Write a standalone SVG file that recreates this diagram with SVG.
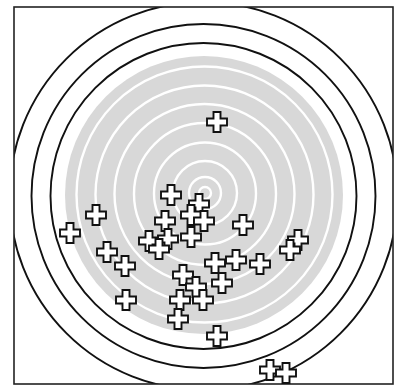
<svg xmlns="http://www.w3.org/2000/svg" xmlns:xlink="http://www.w3.org/1999/xlink" width="396" height="387" viewBox="0 0 396 387">
<style>
.ring{fill:none;stroke:#111;stroke-width:1.9}
.wr{fill:none;stroke:#fff;stroke-width:2.4}
.cross{fill:#fff;stroke:#111;stroke-width:1.9;stroke-linejoin:miter}
</style>
<defs>
<clipPath id="frame"><rect x="14" y="7" width="379" height="377"/></clipPath>
<path id="plus" d="M-3.5,-10 h7 v6.5 h6.5 v7 h-6.5 v6.5 h-7 v-6.5 h-6.5 v-7 h6.5 z"/>
</defs>
<rect width="396" height="387" fill="#fff"/>
<g id="target" clip-path="url(#frame)">
<circle cx="204" cy="195" r="139" fill="#d8d8d8"/>
<g class="wr">
<circle cx="204.5" cy="194.5" r="128"/>
<circle cx="204.5" cy="194.5" r="109"/>
<circle cx="204.5" cy="194" r="90"/>
<circle cx="205" cy="194" r="71"/>
<circle cx="205" cy="193.5" r="51"/>
<circle cx="205" cy="193" r="32"/>
<circle cx="205" cy="193" r="16"/>
<circle cx="205" cy="193" r="6"/>
</g>
<circle class="ring" cx="203.5" cy="196" r="194"/>
<circle class="ring" cx="203.5" cy="196" r="172"/>
<circle class="ring" cx="203.5" cy="196" r="153"/>
</g>
<rect id="border" x="14" y="7" width="379" height="377" fill="none" stroke="#222" stroke-width="1.6"/>
<g id="hits" class="cross">
<use xlink:href="#plus" x="217" y="122"/>
<use xlink:href="#plus" x="96" y="215"/>
<use xlink:href="#plus" x="70" y="233"/>
<use xlink:href="#plus" x="107" y="252"/>
<use xlink:href="#plus" x="125" y="266"/>
<use xlink:href="#plus" x="126" y="300"/>
<use xlink:href="#plus" x="171" y="195"/>
<use xlink:href="#plus" x="199" y="204"/>
<use xlink:href="#plus" x="191" y="215"/>
<use xlink:href="#plus" x="204" y="221"/>
<use xlink:href="#plus" x="165" y="221"/>
<use xlink:href="#plus" x="191" y="237"/>
<use xlink:href="#plus" x="149" y="241"/>
<use xlink:href="#plus" x="168" y="239"/>
<use xlink:href="#plus" x="159" y="249"/>
<use xlink:href="#plus" x="243" y="225"/>
<use xlink:href="#plus" x="298" y="240"/>
<use xlink:href="#plus" x="290" y="250"/>
<use xlink:href="#plus" x="215" y="263"/>
<use xlink:href="#plus" x="236" y="260"/>
<use xlink:href="#plus" x="260" y="264"/>
<use xlink:href="#plus" x="183" y="275"/>
<use xlink:href="#plus" x="222" y="283"/>
<use xlink:href="#plus" x="196" y="287"/>
<use xlink:href="#plus" x="180" y="300"/>
<use xlink:href="#plus" x="203" y="300"/>
<use xlink:href="#plus" x="178" y="319"/>
<use xlink:href="#plus" x="217" y="336"/>
<use xlink:href="#plus" x="270" y="370"/>
<use xlink:href="#plus" x="286" y="373"/>
</g>
</svg>
